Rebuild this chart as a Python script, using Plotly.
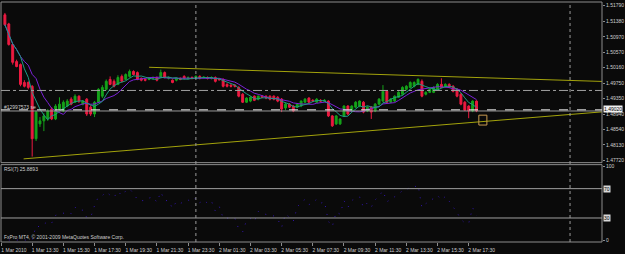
import numpy as np
import pandas as pd
import plotly.graph_objects as go

# ---------------- data (GBPUSD M15) ----------------
bar_open = [1.5155, 1.5131, 1.5077, 1.5032, 1.5024, 1.4977, 1.4977, 1.4967, 1.4829, 1.4868,
            1.4876, 1.4881, 1.4907, 1.4881, 1.4907, 1.4902, 1.4915, 1.4933, 1.4925, 1.4941,
            1.4920, 1.4933, 1.4912, 1.4894, 1.4925, 1.4941, 1.4959, 1.4985, 1.4980, 1.4972,
            1.4993, 1.4985, 1.4993, 1.5006, 1.5003, 1.4988, 1.4985, 1.4985, 1.4988, 1.4990,
            1.4990, 1.5003, 1.4988, 1.4983, 1.4983, 1.4988, 1.4993, 1.4988, 1.4990, 1.4990,
            1.4993, 1.4990, 1.4990, 1.4988, 1.4990, 1.4985, 1.4985, 1.4972, 1.4970, 1.4970,
            1.4964, 1.4946, 1.4925, 1.4928, 1.4941, 1.4933, 1.4941, 1.4941, 1.4941, 1.4941,
            1.4938, 1.4933, 1.4910, 1.4920, 1.4915, 1.4912, 1.4915, 1.4925, 1.4936, 1.4930,
            1.4925, 1.4930, 1.4928, 1.4928, 1.4889, 1.4868, 1.4868, 1.4889, 1.4915, 1.4902,
            1.4912, 1.4915, 1.4925, 1.4902, 1.4912, 1.4902, 1.4920, 1.4928, 1.4954, 1.4925,
            1.4928, 1.4938, 1.4946, 1.4959, 1.4964, 1.4967, 1.4972, 1.4980, 1.4946, 1.4951,
            1.4951, 1.4959, 1.4972, 1.4967, 1.4972, 1.4967, 1.4959, 1.4946, 1.4925, 1.4915,
            1.4902, 1.4928]
bar_high = [1.5160, 1.5134, 1.5079, 1.5037, 1.5027, 1.4983, 1.4980, 1.4970, 1.4902, 1.4886,
            1.4896, 1.4907, 1.4912, 1.4920, 1.4938, 1.4930, 1.4933, 1.4938, 1.4946, 1.4943,
            1.4930, 1.4936, 1.4917, 1.4928, 1.4962, 1.4970, 1.4985, 1.4993, 1.4985, 1.4996,
            1.4998, 1.5001, 1.5011, 1.5009, 1.5006, 1.4990, 1.4988, 1.4990, 1.4993, 1.4993,
            1.5011, 1.5006, 1.4993, 1.4985, 1.4990, 1.4990, 1.4996, 1.4993, 1.4993, 1.4996,
            1.4996, 1.4993, 1.4993, 1.4993, 1.4993, 1.4988, 1.4988, 1.4975, 1.4972, 1.4972,
            1.4967, 1.4949, 1.4938, 1.4941, 1.4943, 1.4943, 1.4943, 1.4943, 1.4943, 1.4943,
            1.4941, 1.4936, 1.4923, 1.4923, 1.4917, 1.4923, 1.4930, 1.4936, 1.4938, 1.4933,
            1.4936, 1.4933, 1.4933, 1.4930, 1.4891, 1.4891, 1.4883, 1.4917, 1.4917, 1.4917,
            1.4928, 1.4930, 1.4928, 1.4915, 1.4915, 1.4923, 1.4936, 1.4970, 1.4956, 1.4936,
            1.4943, 1.4954, 1.4967, 1.4970, 1.4980, 1.4980, 1.4988, 1.4985, 1.4954, 1.4962,
            1.4967, 1.4975, 1.4988, 1.4975, 1.4975, 1.4970, 1.4962, 1.4949, 1.4928, 1.4917,
            1.4930, 1.4930]
bar_low = [1.5126, 1.5074, 1.5024, 1.5017, 1.4967, 1.4964, 1.4959, 1.4782, 1.4823, 1.4860,
           1.4849, 1.4876, 1.4878, 1.4878, 1.4904, 1.4899, 1.4912, 1.4917, 1.4923, 1.4923,
           1.4917, 1.4889, 1.4889, 1.4886, 1.4923, 1.4936, 1.4956, 1.4970, 1.4964, 1.4970,
           1.4977, 1.4983, 1.4990, 1.4996, 1.4983, 1.4980, 1.4980, 1.4983, 1.4985, 1.4980,
           1.4988, 1.4988, 1.4985, 1.4975, 1.4980, 1.4983, 1.4985, 1.4985, 1.4985, 1.4988,
           1.4985, 1.4988, 1.4985, 1.4985, 1.4977, 1.4983, 1.4964, 1.4964, 1.4964, 1.4964,
           1.4938, 1.4923, 1.4923, 1.4925, 1.4928, 1.4930, 1.4936, 1.4933, 1.4930, 1.4930,
           1.4925, 1.4899, 1.4904, 1.4910, 1.4899, 1.4910, 1.4912, 1.4923, 1.4923, 1.4925,
           1.4923, 1.4925, 1.4925, 1.4886, 1.4860, 1.4865, 1.4865, 1.4886, 1.4891, 1.4899,
           1.4910, 1.4912, 1.4896, 1.4899, 1.4881, 1.4899, 1.4917, 1.4925, 1.4923, 1.4923,
           1.4925, 1.4936, 1.4943, 1.4956, 1.4962, 1.4964, 1.4970, 1.4938, 1.4943, 1.4949,
           1.4949, 1.4956, 1.4962, 1.4964, 1.4962, 1.4951, 1.4938, 1.4917, 1.4902, 1.4883,
           1.4899, 1.4899]
bar_close = [1.5129, 1.5077, 1.5030, 1.5019, 1.4972, 1.4967, 1.4964, 1.4829, 1.4899, 1.4876,
             1.4889, 1.4902, 1.4881, 1.4915, 1.4920, 1.4925, 1.4928, 1.4920, 1.4941, 1.4928,
             1.4928, 1.4894, 1.4894, 1.4925, 1.4959, 1.4964, 1.4980, 1.4972, 1.4967, 1.4990,
             1.4980, 1.4998, 1.5006, 1.4998, 1.4985, 1.4983, 1.4983, 1.4988, 1.4990, 1.4983,
             1.5003, 1.4990, 1.4990, 1.4977, 1.4988, 1.4985, 1.4988, 1.4990, 1.4988, 1.4993,
             1.4988, 1.4991, 1.4988, 1.4990, 1.4980, 1.4984, 1.4967, 1.4967, 1.4967, 1.4967,
             1.4941, 1.4925, 1.4936, 1.4938, 1.4930, 1.4941, 1.4938, 1.4936, 1.4933, 1.4933,
             1.4928, 1.4907, 1.4920, 1.4912, 1.4902, 1.4920, 1.4928, 1.4933, 1.4925, 1.4928,
             1.4933, 1.4928, 1.4930, 1.4889, 1.4863, 1.4889, 1.4881, 1.4915, 1.4894, 1.4915,
             1.4925, 1.4928, 1.4899, 1.4912, 1.4899, 1.4920, 1.4933, 1.4954, 1.4925, 1.4933,
             1.4941, 1.4951, 1.4964, 1.4967, 1.4977, 1.4977, 1.4985, 1.4941, 1.4951, 1.4959,
             1.4964, 1.4972, 1.4964, 1.4972, 1.4964, 1.4954, 1.4941, 1.4920, 1.4904, 1.4902,
             1.4928, 1.4902]

first_bar_time = "2010-03-01 11:45"
bar_minutes = 15

time_labels = ["1 Mar 2010", "1 Mar 13:30", "1 Mar 15:30", "1 Mar 17:30", "1 Mar 19:30",
               "1 Mar 21:30", "1 Mar 23:30", "2 Mar 01:30", "2 Mar 03:30", "2 Mar 05:30",
               "2 Mar 07:30", "2 Mar 09:30", "2 Mar 11:30", "2 Mar 13:30", "2 Mar 15:30",
               "2 Mar 17:30"]
time_label_times = ["2010-03-01 11:30", "2010-03-01 13:30", "2010-03-01 15:30", "2010-03-01 17:30",
                    "2010-03-01 19:30", "2010-03-01 21:30", "2010-03-01 23:30", "2010-03-02 01:30",
                    "2010-03-02 03:30", "2010-03-02 05:30", "2010-03-02 07:30", "2010-03-02 09:30",
                    "2010-03-02 11:30", "2010-03-02 13:30", "2010-03-02 15:30", "2010-03-02 17:30"]
day_separators = ["2010-03-02 00:00", "2010-03-03 00:00"]

price_ticks = [1.51790, 1.51380, 1.50970, 1.50570, 1.50160, 1.49750, 1.49350,
               1.48940, 1.48540, 1.48130, 1.47720]
bid_price = 1.49020
order_price = 1.49050
order_label = "#12997573 se"
level_price = 1.49560
rsi_levels = [70, 30]
rsi_text = "RSI(7) 25.8893"
footer_text = "FxPro MT4, \u00a9 2001-2009 MetaQuotes Software Corp."

# trendlines: (time, price) anchors
trend_upper_times = ["2010-03-01 21:00", "2010-03-03 05:45"]
trend_upper_prices = [1.5017, 1.4975]
trend_lower_times = ["2010-03-01 12:57", "2010-03-03 05:45"]
trend_lower_prices = [1.4776, 1.4912]
label_box_times = ["2010-03-02 18:09", "2010-03-02 18:40"]
label_box_prices = [1.4865, 1.4891]

# ---------------- helpers ----------------
t0 = pd.Timestamp(first_bar_time)
def tidx(t):
    return (pd.Timestamp(t) - t0) / pd.Timedelta(minutes=bar_minutes)

n = len(bar_close)
x = np.arange(n)
close = pd.Series(bar_close)
ma_fast = close.rolling(5, min_periods=1).mean()
ma_slow = close.rolling(9, min_periods=1).mean()
delta = close.diff()
gain = delta.clip(lower=0)
loss = -delta.clip(upper=0)
ag = gain.ewm(alpha=1 / 7, adjust=False).mean()
al = loss.ewm(alpha=1 / 7, adjust=False).mean()
rsi = 100 - 100 / (1 + ag / al.replace(0, np.nan))

BG = "#0a0a0a"
GRID = "#8c8c8c"
TXT = "#cfcfcf"
GREEN = "#15a21a"
RED = "#ec1a40"
YEL = "#a3a30c"
FONT = "Liberation Sans"
FS = 5

fig = go.Figure()
fig.add_trace(go.Candlestick(
    x=x, open=bar_open, high=bar_high, low=bar_low, close=bar_close,
    increasing=dict(line=dict(color=GREEN, width=1), fillcolor=GREEN),
    decreasing=dict(line=dict(color=RED, width=1), fillcolor=RED),
    whiskerwidth=0, xaxis="x", yaxis="y", showlegend=False, hoverinfo="skip"))
fig.add_trace(go.Scatter(x=x, y=ma_slow, mode="lines", line=dict(color="#7a22d6", width=1),
                         xaxis="x", yaxis="y", showlegend=False, hoverinfo="skip"))
fig.add_trace(go.Scatter(x=x, y=ma_fast, mode="lines", line=dict(color="#1e9c84", width=1),
                         xaxis="x", yaxis="y", showlegend=False, hoverinfo="skip"))
fig.add_trace(go.Scatter(x=[tidx(t) for t in trend_upper_times], y=trend_upper_prices, mode="lines",
                         line=dict(color=YEL, width=1), xaxis="x", yaxis="y", showlegend=False))
fig.add_trace(go.Scatter(x=[tidx(t) for t in trend_lower_times], y=trend_lower_prices, mode="lines",
                         line=dict(color=YEL, width=1), xaxis="x", yaxis="y", showlegend=False))
fig.add_trace(go.Scatter(x=x, y=rsi, mode="lines", line=dict(color="#3416b0", width=1, dash="1px,7px"),
                         xaxis="x", yaxis="y2", showlegend=False, hoverinfo="skip"))

shapes = []
main_dom = [0.3306, 1.0]
rsi_dom = [0.0, 0.3223]
for d in (main_dom, rsi_dom):
    shapes.append(dict(type="rect", xref="paper", yref="paper", x0=0, x1=1, y0=d[0], y1=d[1],
                       line=dict(color=GRID, width=1), layer="above"))
for lv in rsi_levels:
    shapes.append(dict(type="line", xref="paper", yref="y2", x0=0, x1=1, y0=lv, y1=lv,
                       line=dict(color="#a0a0a0", width=1)))
for s in day_separators:
    shapes.append(dict(type="line", xref="x", yref="paper", x0=tidx(s), x1=tidx(s), y0=0, y1=1,
                       line=dict(color="#9a9a9a", width=1, dash="dot")))
shapes.append(dict(type="line", xref="paper", yref="y", x0=0, x1=1, y0=level_price, y1=level_price,
                   line=dict(color="#a0a0a0", width=1, dash="dashdot")))
shapes.append(dict(type="line", xref="paper", yref="y", x0=0, x1=1, y0=bid_price, y1=bid_price,
                   line=dict(color="#9a9a9a", width=1)))
shapes.append(dict(type="line", xref="paper", yref="y", x0=0, x1=1, y0=order_price, y1=order_price,
                   line=dict(color="#e6e6e6", width=1, dash="dash")))
shapes.append(dict(type="rect", xref="x", yref="y", x0=tidx(label_box_times[0]), x1=tidx(label_box_times[1]),
                   y0=label_box_prices[0], y1=label_box_prices[1], line=dict(color="#c89a50", width=1)))

annotations = [
    dict(xref="paper", yref="y", x=1, y=bid_price, xanchor="left", yanchor="middle", xshift=1, yshift=2,
         text=f"{bid_price:.5f}", bgcolor="#f0f0f0", font=dict(color="#000000", size=FS, family=FONT),
         showarrow=False, borderpad=0),
    dict(xref="paper", yref="y", x=0.004, y=order_price, xanchor="left", yanchor="middle", yshift=3,
         text=order_label, font=dict(color=TXT, size=FS, family=FONT), showarrow=False, borderpad=0),
    dict(xref="paper", yref="y2 domain", x=0.004, y=0.99, xanchor="left", yanchor="top",
         text=rsi_text, font=dict(color=TXT, size=FS, family=FONT), showarrow=False, borderpad=0),
    dict(xref="paper", yref="y2 domain", x=0.004, y=0.0, xanchor="left", yanchor="bottom",
         text=footer_text, font=dict(color=TXT, size=FS, family=FONT), showarrow=False, borderpad=0,
         yshift=1),
]
for lv in rsi_levels:
    annotations.append(dict(xref="paper", yref="y2", x=1, y=lv, xanchor="left", yanchor="middle", xshift=1,
                            text=str(lv), bgcolor="#d8d8d8", font=dict(color="#000000", size=FS, family=FONT),
                            showarrow=False, borderpad=0))

fig.update_layout(
    width=625, height=254, margin=dict(l=1, r=18, t=2, b=10),
    paper_bgcolor=BG, plot_bgcolor=BG, showlegend=False,
    font=dict(family=FONT, size=FS, color=TXT),
    shapes=shapes, annotations=annotations,
    xaxis=dict(anchor="y2", range=[-1, 153.2], tickvals=[tidx(t) for t in time_label_times],
               ticktext=time_labels, ticks="outside", ticklen=3, tickcolor=GRID, ticklabelshift=13,
               showgrid=False, zeroline=False, showline=False, rangeslider=dict(visible=False),
               tickfont=dict(size=FS, color=TXT, family=FONT)),
    yaxis=dict(domain=main_dom, range=[1.47660, 1.51888], side="right", tickvals=price_ticks,
               ticktext=[f"{p:.5f}" for p in price_ticks], ticks="outside", ticklen=2, tickcolor=GRID,
               showgrid=False, zeroline=False, showline=False, tickfont=dict(size=FS, color=TXT, family=FONT)),
    yaxis2=dict(domain=rsi_dom, range=[-2.7, 102.7], side="right", tickvals=[100, 0],
                ticktext=["100", "0"], ticks="outside", ticklen=2, tickcolor=GRID,
                showgrid=False, zeroline=False, showline=False, tickfont=dict(size=FS, color=TXT, family=FONT)),
)

fig.write_html("out.html")
